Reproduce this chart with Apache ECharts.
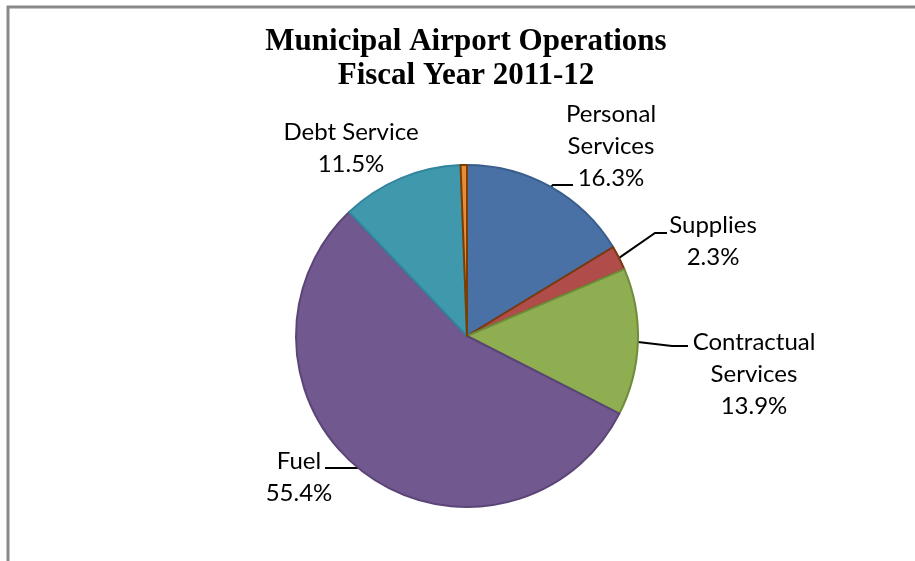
<!DOCTYPE html>
<html>
<head>
<meta charset="utf-8">
<script src="https://cdn.jsdelivr.net/npm/echarts@6/dist/echarts.min.js"></script>
<style>
html,body{margin:0;padding:0;background:#fff;}
#chart{width:915px;height:561px;}
</style>
</head>
<body>
<div id="chart"></div>
<script>
// ---- data ----
const categories = ['Personal Services', 'Supplies', 'Contractual Services', 'Fuel', 'Debt Service', 'Other'];
const labelNames = ['Personal\nServices', 'Supplies', 'Contractual\nServices', 'Fuel', 'Debt Service', ''];
const values = [16.3, 2.3, 13.9, 55.4, 11.5, 0.6];
const titleLines = ['Municipal Airport Operations', 'Fiscal Year 2011-12'];

// ---- style ----
const fills = ['#4A71A6', '#B04C4A', '#8FAE52', '#71588F', '#4098AD', '#E98C3A'];
const borders = ['#3A5E8C', '#7A3A10', '#6E8C3A', '#5B4577', '#31859C', '#7A3E00'];
const showLabel = [true, true, true, true, true, false];
const showLine = [true, true, true, true, false, false];
// label block centres and leader-line bends (layout styling)
const labelSpots = [
  {x: 611, y: 146, line: [[553, 185], [573, 185]]},
  {x: 713, y: 241, line: [[655, 233], [667, 233]]},
  {x: 754, y: 374, line: [[672, 346], [688, 346]]},
  {x: 299, y: 477, line: [[362, 468], [325, 468]]},
  {x: 351, y: 148, line: null},
  {x: 467, y: 150, line: null}
];

const chart = echarts.init(document.getElementById('chart'), null, {renderer: 'canvas'});

const data = categories.map((c, i) => ({
  name: c,
  value: values[i],
  itemStyle: {color: fills[i], borderColor: borders[i], borderWidth: 2},
  label: {show: showLabel[i]},
  labelLine: {show: showLine[i]}
}));

chart.setOption({
  animation: false,
  backgroundColor: '#fff',
  graphic: [{
    type: 'rect',
    shape: {x: 8, y: 7, width: 1200, height: 1200},
    style: {fill: 'none', stroke: '#8A8A8A', lineWidth: 3},
    silent: true
  }],
  title: {
    text: titleLines.join('\n'),
    left: 466,
    textAlign: 'center',
    top: 25,
    padding: 0,
    textStyle: {
      fontFamily: '"Liberation Serif", "Times New Roman", serif',
      fontWeight: 'bold',
      fontSize: 31,
      lineHeight: 34,
      color: '#000'
    }
  },
  series: [{
    type: 'pie',
    center: [467, 336],
    radius: 171,
    startAngle: 90,
    clockwise: true,
    avoidLabelOverlap: false,
    data: data,
    label: {
      position: 'outside',
      formatter: p => labelNames[p.dataIndex] + '\n' + values[p.dataIndex].toFixed(1) + '%',
      fontFamily: 'Lato, "Open Sans", sans-serif',
      fontSize: 24,
      lineHeight: 32,
      color: '#000',
      align: 'center'
    },
    labelLine: {
      show: true,
      smooth: false,
      length: 20,
      length2: 15,
      lineStyle: {color: '#000', width: 2}
    },
    labelLayout: function (params) {
      const s = labelSpots[params.dataIndex];
      const out = {x: s.x, y: s.y, align: 'center', verticalAlign: 'middle'};
      if (s.line && params.labelLinePoints) {
        out.labelLinePoints = [params.labelLinePoints[0], s.line[0], s.line[1]];
      }
      return out;
    },
    emphasis: {disabled: true}
  }]
});
</script>
</body>
</html>
